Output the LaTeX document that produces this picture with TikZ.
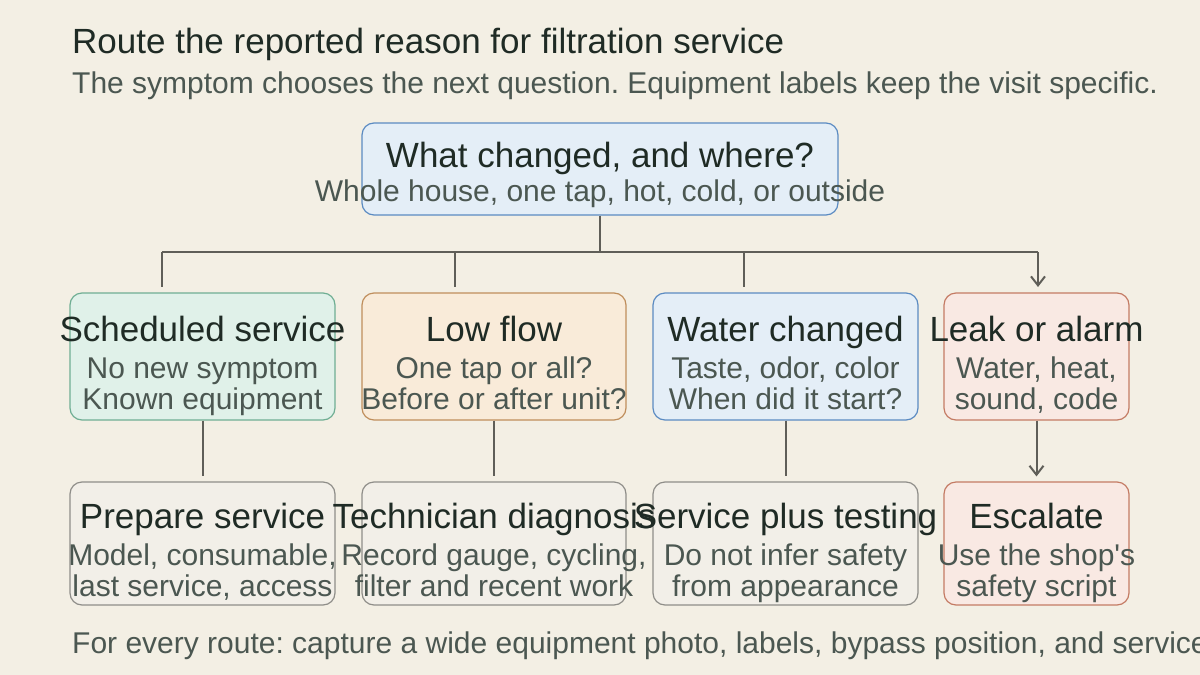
\documentclass[tikz,border=0pt]{standalone}
\usepackage{fontspec}
\setmainfont{Liberation Sans}[Ligatures=TeXOff]
\usetikzlibrary{arrows.meta,calc}
\frenchspacing

\definecolor{paper}{HTML}{F3EFE4}
\definecolor{ink}{HTML}{1F2B25}
\definecolor{mute}{HTML}{4B5751}
\definecolor{wire}{HTML}{5F5E58}
\definecolor{bluefill}{HTML}{E4EEF7}
\definecolor{blueline}{HTML}{5B8BC2}
\definecolor{greenfill}{HTML}{E0F1E9}
\definecolor{greenline}{HTML}{6FAE93}
\definecolor{tanfill}{HTML}{F9EBD9}
\definecolor{tanline}{HTML}{BF8E5C}
\definecolor{redfill}{HTML}{F9E9E3}
\definecolor{redline}{HTML}{C47B64}
\definecolor{greyfill}{HTML}{F2EFE8}
\definecolor{greyline}{HTML}{8F8E89}

% title line and two sub lines inside a card
\newcommand{\cardlabel}[4]{%
  \node[ttl] (#1-t) at ($(#1)+(0,-15.5)$) {#2};
  \node[sub] (#1-a) at ($(#1)+(0,21.5)$) {#3};
  \node[sub] (#1-b) at ($(#1)+(0,52.5)$) {#4};}

\begin{document}
\begin{tikzpicture}[x=1pt, y=-1pt,
  card/.style={draw=#1line, fill=#1fill, line width=1.2pt, rounded corners=12pt, inner sep=0pt},
  ttl/.style={anchor=base, inner sep=0pt, text=ink, font=\fontsize{35}{42}\selectfont},
  sub/.style={anchor=base, inner sep=0pt, text=mute, font=\fontsize{30}{36}\selectfont},
  wire/.style={draw=wire, line width=2pt},
  tip/.style={-{Straight Barb[length=9pt, width=14pt]}}]
\useasboundingbox (0,0) rectangle (1200,675);
\fill[paper] (0,0) rectangle (1200,675);

\node[anchor=base west, inner sep=0pt, text=ink, font=\fontsize{35}{42}\selectfont] (head) at (72,53) {Route the reported reason for filtration service};
\node[anchor=base west, inner sep=0pt, text=mute, font=\fontsize{30}{36}\selectfont] (lede) at (72,93) {The symptom chooses the next question. Equipment labels keep the visit specific.};

% question
\node[card=blue, minimum width=476pt, minimum height=92pt] (top) at (600,169) {};
\node[ttl] (top-t) at ($(top)+(0,-2)$) {What changed, and where?};
\node[sub] (top-a) at ($(top)+(0,32)$) {Whole house, one tap, hot, cold, or outside};

% symptoms
\node[card=green, minimum width=265pt, minimum height=127pt] (sched) at (202.5,356.5) {};
\node[card=tan,   minimum width=264pt, minimum height=127pt] (low)   at (494,356.5) {};
\node[card=blue,  minimum width=265pt, minimum height=127pt] (water) at (785.5,356.5) {};
\node[card=red,   minimum width=185pt, minimum height=127pt] (leak)  at (1036.5,356.5) {};
\cardlabel{sched}{Scheduled service}{No new symptom}{Known equipment}
\cardlabel{low}{Low flow}{One tap or all?}{Before or after unit?}
\cardlabel{water}{Water changed}{Taste, odor, color}{When did it start?}
\cardlabel{leak}{Leak or alarm}{Water, heat,}{sound, code}

% actions
\node[card=grey, minimum width=265pt, minimum height=123pt] (prep)  at (202.5,543.5) {};
\node[card=grey, minimum width=264pt, minimum height=123pt] (tech)  at (494,543.5) {};
\node[card=grey, minimum width=265pt, minimum height=123pt] (test)  at (785.5,543.5) {};
\node[card=red,  minimum width=185pt, minimum height=123pt] (esc)   at (1036.5,543.5) {};
\cardlabel{prep}{Prepare service}{Model, consumable,}{last service, access}
\cardlabel{tech}{Technician diagnosis}{Record gauge, cycling,}{filter and recent work}
\cardlabel{test}{Service plus testing}{Do not infer safety}{from appearance}
\cardlabel{esc}{Escalate}{Use the shop's}{safety script}

% branching
\coordinate (hubL) at (162,252);
\coordinate (hubR) at (1038,252);
\coordinate (d1) at (162,287);
\coordinate (d2) at (455,287);
\coordinate (d3) at (744,287);
\coordinate (d4) at (1038,287);
\draw[wire] (top) -- (top |- hubL);
\draw[wire] (hubL) -- (hubR);
\draw[wire] (hubL) -- (d1);
\draw[wire] (d2 |- hubL) -- (d2);
\draw[wire] (d3 |- hubL) -- (d3);
\draw[wire, tip] (hubR) -- (d4);

\draw[wire, shorten >=5pt] (sched) -- (prep);
\draw[wire, shorten >=5pt] (low) -- (tech);
\draw[wire, shorten >=5pt] (water) -- (test);
\draw[wire, tip, shorten >=5pt] (leak) -- (esc);

\node[anchor=base west, inner sep=0pt, text=mute, font=\fontsize{30}{36}\selectfont] (foot) at (72,653) {For every route: capture a wide equipment photo, labels, bypass position, and service};
\end{tikzpicture}
\end{document}
